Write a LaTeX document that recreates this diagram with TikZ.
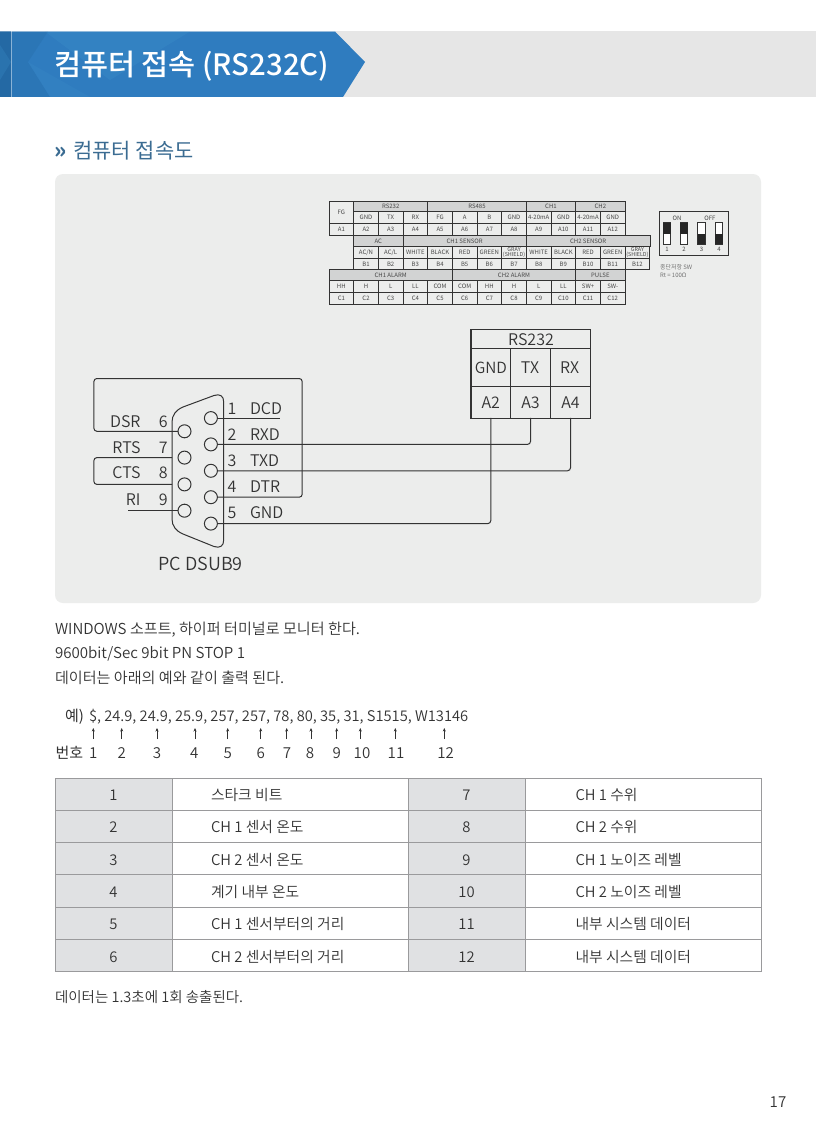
\documentclass[tikz,border=0pt]{standalone}
\usepackage{fontspec}
\setmainfont{Noto Sans CJK KR DemiLight}
\newfontfamily\cjkreg{Noto Sans CJK KR}
\newfontfamily\cjkmed{Noto Sans CJK KR Medium}
\usetikzlibrary{arrows.meta}
\definecolor{panelc}{HTML}{ECEDEC}
\definecolor{bandc}{HTML}{E6E6E6}
\definecolor{bluec}{HTML}{2F7CBF}
\definecolor{blued}{HTML}{22659E}
\definecolor{blues}{HTML}{3F92CC}
\definecolor{headc}{HTML}{3B6C92}
\definecolor{inkc}{HTML}{333333}
\definecolor{grayc}{HTML}{D2D3D3}
\definecolor{tblg}{HTML}{E0E1E3}
\definecolor{tbll}{HTML}{9A9A9C}
\definecolor{termc}{HTML}{333333}
\tikzset{
 txt/.style={inner sep=0pt,outer sep=0pt,text=inkc,anchor=base west},
 termtxt/.style={inner sep=0pt,text=inkc!90,font=\cjkreg\fontsize{6}{6}\selectfont},
 wire/.style={draw=inkc,line width=1pt,rounded corners=3pt},
 pin/.style={circle,draw=inkc,line width=1pt,fill=panelc,minimum size=13pt,inner sep=0pt,outer sep=0pt},
 lab/.style={inner sep=0pt,outer sep=0pt,text=inkc,font=\fontsize{16}{16}\selectfont},
 cell/.style={draw=tbll,line width=.9pt,inner sep=0pt,outer sep=0pt},
 body/.style={txt,font=\fontsize{15.1}{15}\selectfont},
 tabt/.style={txt,font=\fontsize{14.8}{15}\selectfont},
}
\newcommand{\cellbox}[6]{% name x1 y1 x2 y2 fill
 \path[draw=termc,line width=.95pt,fill=#6] (#2,#3) rectangle (#4,#5);
 \coordinate (#1) at ({(#2+#4)/2},{(#3+#5)/2});}
\begin{document}
\begin{tikzpicture}[x=1pt,y=-1pt]
\useasboundingbox (0,0) rectangle (816,1145);
\fill[white] (0,0) rectangle (816,1145);
% header band
\fill[bandc] (0,31.5) rectangle (816,97);
\fill[bluec] (0,31.5) -- (335,31.5) -- (365,62) -- (343,97) -- (0,97) -- cycle;
\fill[blues,opacity=.3] (45,31.5) -- (190,31.5) -- (110,80) -- cycle;
\fill[blued,opacity=.25] (11,31.5) -- (48,31.5) -- (28,62) -- (50,97) -- (11,97) -- cycle;
\fill[blues,opacity=.2] (28,62) -- (50,97) -- (90,97) -- cycle;
\fill[blued,opacity=.8] (0,31.5) rectangle (11,97);
\fill[blues,opacity=.25] (0,45) -- (11,62) -- (0,80) -- cycle;
\draw[white,opacity=.45,line width=.7pt] (11,31.5) -- (11,97);
\draw[white,opacity=.3,line width=.6pt] (0,31.8) -- (335,31.8);
\node[txt,text=white,font=\cjkmed\fontsize{29.4}{29}\selectfont] (title) at (54,75.7) {컴퓨터 접속 (RS232C)};
\node[txt,text=headc,font=\cjkreg\bfseries\fontsize{22}{22}\selectfont] (arr) at (54,158) {»};
\node[txt,text=headc,font=\cjkreg\fontsize{20.9}{22}\selectfont] (sec) at (73.5,158) {컴퓨터 접속도};
% panel
\fill[panelc,rounded corners=8pt] (55,174) rectangle (761,603);
% terminal table
\foreach \n/\a/\b/\c/\d/\f in {
 FG/329/201/353.7/223.7/panelc, RS/353.7/201/427.7/211.7/grayc, RF/427.7/201/526.3/211.7/grayc,
 CHa/526.3/201/575.7/211.7/grayc, CHb/575.7/201/625/211.7/grayc,
 AC/353.7/235/403/246.7/grayc, SA/403/235/526.3/246.7/grayc, SB/526.3/235/650/246.7/grayc,
 ALa/329/269.7/452.3/280/grayc, ALb/452.3/269.7/575.7/280/grayc, PU/575.7/269.7/625/280/grayc}
 {\cellbox{\n}{\a}{\b}{\c}{\d}{\f}}
\foreach \n/\t in {FG/FG,RS/RS232,RF/RS485,CHa/CH1,CHb/CH2,AC/AC,SA/CH1 SENSOR,SB/CH2 SENSOR,ALa/CH1 ALARM,ALb/CH2 ALARM,PU/PULSE}
 \node[termtxt] at (\n) {\t};
% A rows
\foreach \i/\t/\u in {1/GND/A2,2/TX/A3,3/RX/A4,4/FG/A5,5/A/A6,6/B/A7,7/GND/A8,8/4{-}20mA/A9,9/GND/A10,10/4{-}20mA/A11,11/GND/A12}{
 \pgfmathsetmacro\xa{329+24.67*\i}\pgfmathsetmacro\xb{\xa+24.67}
 \cellbox{na\i}{\xa}{211.7}{\xb}{223.7}{panelc}
 \cellbox{ua\i}{\xa}{223.7}{\xb}{235}{panelc}
 \node[termtxt] at (na\i) {\t};
 \node[termtxt] at (ua\i) {\u};
}
\cellbox{ua0}{329}{223.7}{353.7}{235}{panelc}
\node[termtxt] at (ua0) {A1};
% B rows
\foreach \i/\u in {1/B1,2/B2,3/B3,4/B4,5/B5,6/B6,7/B7,8/B8,9/B9,10/B10,11/B11,12/B12}{
 \pgfmathsetmacro\xa{329+24.67*\i}\pgfmathsetmacro\xb{\xa+24.67}
 \cellbox{nb\i}{\xa}{246.7}{\xb}{258.3}{panelc}
 \cellbox{ub\i}{\xa}{258.3}{\xb}{269.7}{panelc}
 \node[termtxt] at (ub\i) {\u};
}
\foreach \i/\t in {1/{AC/N},2/{AC/L},3/WHITE,4/BLACK,5/RED,6/GREEN,8/WHITE,9/BLACK,10/RED,11/GREEN}
 \node[termtxt] at (nb\i) {\t};
\foreach \i in {7,12}
 \node[termtxt,align=center,font=\cjkreg\fontsize{5.4}{4.6}\selectfont] at (nb\i) {GRAY\\(SHIELD)};
% C rows
\foreach \i/\t in {0/HH,1/H,2/L,3/LL,4/COM,5/COM,6/HH,7/H,8/L,9/LL,10/SW+,11/SW{-}}{
 \pgfmathsetmacro\xa{329+24.67*\i}\pgfmathsetmacro\xb{\xa+24.67}
 \pgfmathtruncatemacro\k{\i+1}
 \cellbox{nc\i}{\xa}{280}{\xb}{292.3}{panelc}
 \cellbox{uc\i}{\xa}{292.3}{\xb}{304}{panelc}
 \node[termtxt] at (nc\i) {\t};
 \node[termtxt] at (uc\i) {C\k};
}
% DIP switch
\path[draw=termc,line width=1pt] (659,211) rectangle (728.5,255);
\node[termtxt] (on) at (677,218) {ON};
\node[termtxt] (off) at (710,218) {OFF};
\foreach \i/\x/\up in {1/667/1,2/684/1,3/701.5/0,4/719/0}{
 \draw[termc,line width=.9pt,fill=white] (\x-3.7,222.5) rectangle (\x+3.7,244);
 \ifnum\up=1 \fill[black!85] (\x-3.7,222.5) rectangle (\x+3.7,233.5);
 \else \fill[black!85] (\x-3.7,233.5) rectangle (\x+3.7,244); \fi
 \node[termtxt] at (\x,249.5) {\i};
}
\node[txt,text=inkc!75,font=\fontsize{6}{7}\selectfont] (swa) at (660,269) {종단저항 SW};
\node[txt,text=inkc!75,font=\fontsize{6}{7}\selectfont] (swb) at (660,277) {Rt = 100Ω};
% RS232 box
\path[draw=termc,line width=1.1pt] (471,329.8) rectangle (590.7,418.4);
\draw[termc,line width=.95pt] (471,348.7) -- (590.7,348.7) (471,386.3) -- (590.7,386.3)
 (510.8,348.7) -- (510.8,418.4) (550.4,348.7) -- (550.4,418.4);
\node[lab] (rstitle) at (531,339.5) {RS232};
\node[lab,font=\fontsize{15.4}{16}\selectfont] (tg) at (490.8,367.5) {GND};
\node[lab] (tt) at (530,367.5) {TX};
\node[lab] (tr) at (569.5,367.5) {RX};
\node[lab,minimum width=39pt,minimum height=31pt] (a2) at (490.8,402.4) {A2};
\node[lab,minimum width=39pt,minimum height=31pt] (a3) at (530.5,402.4) {A3};
\node[lab,minimum width=39pt,minimum height=31pt] (a4) at (570.5,402.4) {A4};
% DSUB shell
\draw[inkc,line width=1pt] (223.7,402) .. controls (223.7,396) and (220,393.5) .. (214,395.5)
 -- (183,407) .. controls (176,410) and (172,415) .. (172,422) -- (172,519)
 .. controls (172,526) and (176,531) .. (183,534) -- (214,546.5)
 .. controls (220,548.5) and (223.7,546) .. (223.7,540) -- cycle;
% pins
\foreach \n/\y in {1/418.1,2/444.4,3/470.8,4/497.2,5/523.6}
 \node[pin] (p\n) at (210.9,\y) {};
\foreach \n/\y in {6/431.3,7/457.6,8/484.4,9/510.7}
 \node[pin] (p\n) at (184.5,\y) {};
% free ends
\coordinate (dcdend) at (279.5,418.1);
\coordinate (rtsend) at (172,457.6);
\coordinate (ctsend) at (172,484.4);
\coordinate (riend) at (128,510.7);
% wires
\draw[wire] (p1.east) -- (dcdend);
\draw[wire] (p2.east) -- (a3.south |- p2.east) -- (a3.south);
\draw[wire] (p3.east) -- (a4.south |- p3.east) -- (a4.south);
\draw[wire] (p5.east) -- (a2.south |- p5.east) -- (a2.south);
\draw[wire] (p4.east) -- (302.2,497.2) -- (302.2,378.5) -- (93.9,378.5) -- (93.9,431.3) -- (p6.west);
\draw[wire] (rtsend) -- (93.9,457.6) -- (93.9,484.4) -- (ctsend);
\draw[wire,rounded corners=0pt] (riend) -- (p9.west);
% pin labels
\foreach \n/\y/\t in {a/414.7/1,b/440.7/2,c/466.7/3,d/492.7/4,e/518.7/5}
 \node[lab,anchor=base] (n\n) at (232,\y) {\t};
\foreach \n/\y/\t in {a/414.7/DCD,b/440.7/RXD,c/466.7/TXD,d/492.7/DTR,e/518.7/GND}
 \node[lab,anchor=base west] (s\n) at (250,\y) {\t};
\foreach \n/\y/\t in {a/427/6,b/453.2/7,c/478.8/8,d/505/9}
 \node[lab,anchor=base] (m\n) at (163.2,\y) {\t};
\foreach \n/\y/\t in {a/427/DSR,b/453.2/RTS,c/478.8/CTS,d/505/RI}
 \node[lab,anchor=base east] (q\n) at (140.5,\y) {\t};
\node[lab,anchor=base west,font=\fontsize{18}{18}\selectfont] (dsub) at (158.5,570) {PC DSUB9};
% paragraphs
\node[body] (l1) at (55,634.2) {WINDOWS 소프트, 하이퍼 터미널로 모니터 한다.};
\node[body] (l2) at (55,658) {9600bit/Sec 9bit PN STOP 1};
\node[body] (l3) at (55,683) {데이터는 아래의 예와 같이 출력 된다.};
\node[body,font=\cjkreg\fontsize{15}{15}\selectfont] (ex) at (65,721) {예)};
\node[txt,font=\fontsize{14.7}{15}\selectfont] (exv) at (89,721) {\$, 24.9, 24.9, 25.9, 257, 257, 78, 80, 35, 31, S1515, W13146};
\node[body,font=\cjkreg\fontsize{15}{15}\selectfont] (bh) at (55.5,758.5) {번호};
\foreach \k/\x/\nx in {1/93.3/93.3,2/121.7/121.7,3/157/157,4/195/194.3,5/227.7/227.7,6/260.7/260.7,7/286.7/287,8/311/310,9/336.7/336.7,10/360.3/362,11/395.3/396,12/444.3/445.7}{
 \node[body,anchor=base] (v\k) at (\nx,758.5) {\k};
 \coordinate (ab\k) at (\x,739);
 \coordinate (at\k) at (\x,728);
 \draw[inkc,line width=.7pt,-{Stealth[length=3.5pt,width=3pt]}] (ab\k) -- (at\k);
}
% table
\foreach \y/\ya/\a/\b/\c/\d in {778/810/1/스타크 비트/7/CH 1 수위,810/842.3/2/CH 1 센서 온도/8/CH 2 수위,842.3/874.7/3/CH 2 센서 온도/9/CH 1 노이즈 레벨,874.7/907/4/계기 내부 온도/10/CH 2 노이즈 레벨,907/939.3/5/CH 1 센서부터의 거리/11/내부 시스템 데이터,939.3/971.5/6/CH 2 센서부터의 거리/12/내부 시스템 데이터}{
 \path[cell,fill=tblg] (55,\y) rectangle (172,\ya);
 \path[cell,fill=white] (172,\y) rectangle (408,\ya);
 \path[cell,fill=tblg] (408,\y) rectangle (525,\ya);
 \path[cell,fill=white] (525,\y) rectangle (761,\ya);
 \node[tabt,anchor=base] at (113.5,\ya-9.5) {\a};
 \node[tabt] at (211,\ya-9.5) {\b};
 \node[tabt,anchor=base] at (466.5,\ya-9.5) {\c};
 \node[tabt] at (575.5,\ya-9.5) {\d};
}
\node[txt,font=\fontsize{14.5}{15}\selectfont] (foot) at (55,1002) {데이터는 1.3초에 1회 송출된다.};
\node[body,anchor=base] (pg) at (778,1107) {17};
\end{tikzpicture}
\end{document}
